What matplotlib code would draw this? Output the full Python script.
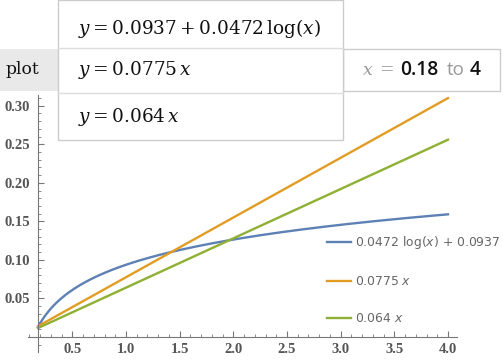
import numpy as np
import matplotlib
matplotlib.use("Agg")
import matplotlib.pyplot as plt
from matplotlib.patches import Rectangle
from matplotlib.ticker import MultipleLocator
from matplotlib.font_manager import FontProperties

# fitted models shown in the chart
log_coef = [0.0937, 0.0472]          # a + b log(x)
lin_coefs = [0.0775, 0.064]          # k x
x_range = [0.18, 4]
eq_labels = [r"$y = 0.0937 + 0.0472\,\log(x)$", r"$y = 0.0775\,x$", r"$y = 0.064\,x$"]
legend_labels = [r"0.0472 log($x$) + 0.0937", r"0.0775 $x$", r"0.064 $x$"]
colors = ["#5E81B5", "#E19C24", "#8FB032"]
x_ticks = [0.5, 1.0, 1.5, 2.0, 2.5, 3.0, 3.5, 4.0]
y_ticks = [0.05, 0.10, 0.15, 0.20, 0.25, 0.30]

W, H = 503, 360
def px(x):
    return x / W
def py(y):
    return 1 - y / H

fig = plt.figure(figsize=(W / 100, H / 100), dpi=100)
ax = fig.add_axes([px(28), py(352), px(457) - px(28), py(95) - py(352)])

x = np.linspace(x_range[0], x_range[1], 400)
ax.plot(x, log_coef[0] + log_coef[1] * np.log(x), color=colors[0], lw=1.7, label=legend_labels[0])
for k, c, lab in zip(lin_coefs, colors[1:], legend_labels[1:]):
    ax.plot(x, k * x, color=c, lw=1.7, label=lab)

ax.set_xlim(0.087, 4.084)
ax.set_ylim(-0.0195, 0.314)
for s in ["top", "right"]:
    ax.spines[s].set_visible(False)
ax.spines["left"].set_position(("data", x_range[0]))
ax.spines["bottom"].set_position(("data", 0))
for s in ["left", "bottom"]:
    ax.spines[s].set_color("#777777")
    ax.spines[s].set_linewidth(0.8)

ax.set_xticks(x_ticks)
ax.set_yticks(y_ticks)
ax.xaxis.set_minor_locator(MultipleLocator(0.1))
ax.yaxis.set_minor_locator(MultipleLocator(0.01))
ax.set_xticklabels([f"{v:.1f}" for v in x_ticks])
ax.set_yticklabels([f"{v:.2f}" for v in y_ticks])
ax.tick_params(which="major", direction="in", length=4, color="#777777", width=0.8)
ax.tick_params(which="minor", direction="in", length=2, color="#777777", width=0.6)
for lab in ax.get_xticklabels() + ax.get_yticklabels():
    lab.set_fontfamily("Liberation Serif")
    lab.set_fontweight("bold")
    lab.set_fontsize(10.5)
    lab.set_color("#555555")
ax.tick_params(axis="x", pad=4)
ax.tick_params(axis="y", pad=6)

leg_font = FontProperties(family="DejaVu Sans", size=8.9, math_fontfamily="dejavusans")
leg = ax.legend(loc="upper left", bbox_to_anchor=(px(327), py(234)), bbox_transform=fig.transFigure,
                frameon=False, prop=leg_font, handlelength=1.95, handletextpad=0.3,
                labelspacing=1.95, borderpad=0, borderaxespad=0)
for t in leg.get_texts():
    t.set_color("#666666")

# header boxes
fig.add_artist(Rectangle((0, py(91)), px(58), py(49) - py(91), transform=fig.transFigure,
                         facecolor="#e9e9e9", edgecolor="none"))
fig.add_artist(Rectangle((px(343), py(91)), px(500) - px(343), py(49) - py(91), transform=fig.transFigure,
                         facecolor="white", edgecolor="#cccccc", lw=1))
fig.add_artist(Rectangle((px(58), py(140)), px(343) - px(58), py(0) - py(140), transform=fig.transFigure,
                         facecolor="white", edgecolor="#cccccc", lw=1))
for yy in [48, 93]:
    fig.add_artist(plt.Line2D([px(58), px(343)], [py(yy), py(yy)], transform=fig.transFigure,
                              color="#dddddd", lw=1))

fig.text(px(5), py(70), "plot", fontsize=12.3, family="DejaVu Serif", color="#111111", va="center")
for yy, s in zip([28, 70, 117], eq_labels):
    fig.text(px(78), py(yy), s, fontsize=13.3, math_fontfamily="dejavuserif", color="#111111", va="center")

fig.text(px(362), py(70), r"$x$", fontsize=12.5, math_fontfamily="dejavuserif", color="#999999", va="center")
fig.text(px(379), py(70), "=", fontsize=12.5, family="DejaVu Serif", color="#999999", va="center")
fig.text(px(400), py(70), "0.18", fontsize=13.8, family="Open Sans", weight="semibold",
         color="#111111", va="center")
fig.text(px(447), py(70), "to", fontsize=13.5, family="Open Sans", color="#999999", va="center")
fig.text(px(470), py(70), "4", fontsize=13.8, family="Open Sans", weight="semibold",
         color="#111111", va="center")

fig.savefig("out.png", dpi=100)
